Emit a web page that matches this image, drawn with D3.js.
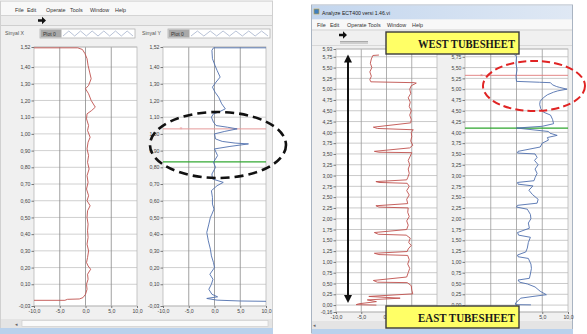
<!DOCTYPE html>
<html><head><meta charset="utf-8">
<script src="https://cdn.jsdelivr.net/npm/d3@7"></script>
<style>body{margin:0;background:#fff}svg{display:block}</style>
</head><body><div id="c"></div>
<script>
// ---------- DATA ----------
const menuItems = ["File","Edit","Operate","Tools","Window","Help"];
const leftYTicks = [1.52,1.40,1.30,1.20,1.10,1.00,0.90,0.80,0.70,0.60,0.50,0.40,0.30,0.20,0.10,-0.03];
const rightYTicks = [5.93,5.75,5.50,5.25,5.00,4.75,4.50,4.25,4.00,3.75,3.50,3.25,3.00,2.75,2.50,2.25,2.00,1.75,1.50,1.25,1.00,0.75,0.50,0.25,0.00,-0.16];
const xTicks = [-10,-5,0,5,10];
const xGrid = [-5,0,5];

// Sinyal X (left window, red) : signal amplitude / position
const sinyalXSig = [-10,-1.5,-0.6,-0.1,0.3,0.5,0.8,1.1,0.6,0.0,0.6,1.1,1.9,1.2,0.3,0.2,0.6,0.4,0.9,0.5,0.3,0.6,0.4,0.7,0.3,0.5,0.2,0.6,0.3,0.9,0.4,0.3,0.5,0.4,0.5,0.3,0.6,0.4,0.2,0.5,1.0,0.4,0.5,0.2,0.3,0.0,-0.5,-1.2,-3.5,-4.0,-10];
const sinyalXPos = [1.515,1.515,1.505,1.48,1.45,1.41,1.37,1.33,1.29,1.27,1.24,1.20,1.16,1.14,1.12,1.09,1.05,1.02,0.98,0.95,0.91,0.87,0.83,0.79,0.75,0.71,0.67,0.63,0.60,0.57,0.54,0.50,0.46,0.42,0.38,0.34,0.30,0.26,0.23,0.21,0.19,0.16,0.13,0.10,0.07,0.04,0.02,0.012,0.01,0.004,0.004];

// Sinyal Y (left window, blue)
const sinyalYSig = [10,-0.2,-0.5,-0.4,0.1,0.5,1.1,0.3,-0.4,0.1,0.8,1.4,2.1,0.8,-0.2,-0.6,-0.2,0.3,2.5,4.4,2.0,0.0,0.2,1.5,4.0,6.6,3.0,0.0,0.6,-0.2,0.2,-0.5,-0.4,1.7,0.5,-0.6,-0.4,-0.4,-0.1,-0.5,-0.8,-1.1,-1.5,-1.2,-0.8,-0.6,-0.2,0.0,-0.9,-0.3,-0.6,-1.1,-0.5,0.6,-1.5,0.5,5,10];
const sinyalYPos = [1.515,1.515,1.50,1.45,1.41,1.38,1.34,1.31,1.28,1.25,1.22,1.18,1.15,1.13,1.12,1.10,1.07,1.05,1.04,1.03,1.015,1.00,0.97,0.955,0.945,0.94,0.925,0.91,0.87,0.83,0.80,0.76,0.73,0.71,0.69,0.66,0.62,0.58,0.55,0.52,0.50,0.46,0.41,0.36,0.31,0.27,0.23,0.20,0.16,0.13,0.10,0.07,0.04,0.025,0.015,0.005,0.0,-0.002];

// ECT400 channel 1 (right window, red)
const ectXSig = [-1.5,-2.7,-3.0,-3.2,-2.9,-3.3,-3.0,-3.3,-3.1,5.5,5.9,4.9,4.6,4.8,4.3,4.7,4.5,4.9,4.6,4.9,4.8,-2.6,-1.8,5.3,4.9,5.0,4.8,5.2,4.6,-2.4,-1.5,5.0,4.7,4.3,4.6,4.3,4.5,4.2,4.0,-2.1,-1.5,4.1,4.5,4.0,4.5,4.0,4.2,-2.1,-1.5,4.3,4.2,4.5,4.0,4.3,4.0,-2.4,-1.6,3.9,4.7,4.4,4.9,4.3,4.1,-2.4,-1.5,4.2,4.5,4.2,4.6,4.3,4.0,-2.6,-1.8,4.1,4.9,5.0,5.2,-3.5,2.7,-3.8,-2.0,-5.5,-6.0,-2.0];
const ectXPos = [5.79,5.78,5.70,5.60,5.50,5.40,5.30,5.22,5.17,5.15,5.14,5.08,5.00,4.90,4.80,4.70,4.60,4.50,4.40,4.30,4.22,4.12,4.09,4.06,4.00,3.90,3.80,3.70,3.64,3.56,3.54,3.53,3.45,3.35,3.25,3.15,3.05,2.95,2.90,2.86,2.84,2.82,2.75,2.65,2.55,2.45,2.35,2.30,2.27,2.25,2.15,2.05,1.95,1.85,1.75,1.68,1.64,1.62,1.55,1.45,1.38,1.30,1.24,1.20,1.17,1.15,1.05,0.95,0.85,0.75,0.65,0.57,0.53,0.52,0.45,0.35,0.26,0.20,0.16,0.12,0.08,0.03,0.01,0.0];

// ECT400 channel 2 (right window, blue)
const ectYSig = [-0.4,0.0,-0.1,0.1,-0.1,0.0,4.5,6.6,7.0,7.8,8.4,9.8,8.0,7.2,6.0,5.2,4.6,4.5,4.7,5.2,6.6,7.0,7.2,5.0,0.0,6.2,6.5,7.9,6.0,6.2,5.0,4.6,0.3,0.2,3.6,4.0,3.5,4.2,3.6,4.0,3.6,3.4,0.2,0.3,3.2,2.4,3.1,4.2,4.0,0.2,0.0,2.1,2.7,2.8,2.3,2.5,0.2,0.4,2.7,2.3,2.1,1.8,0.2,0.3,2.3,2.8,2.9,2.7,2.5,0.3,0.6,2.1,3.6,4.6,5.8,3.2,0.8,0.3,-0.2,-0.2,2.8];
const ectYPos = [5.80,5.75,5.60,5.45,5.30,5.18,5.16,5.15,5.10,5.06,5.04,5.00,4.96,4.93,4.87,4.80,4.72,4.65,4.55,4.47,4.40,4.30,4.20,4.14,4.10,4.02,3.98,3.93,3.88,3.82,3.75,3.66,3.56,3.52,3.50,3.42,3.35,3.25,3.15,3.05,2.95,2.88,2.84,2.80,2.76,2.66,2.56,2.45,2.36,2.31,2.27,2.22,2.10,2.00,1.90,1.78,1.68,1.62,1.57,1.45,1.32,1.23,1.16,1.12,1.08,0.95,0.85,0.72,0.62,0.58,0.53,0.49,0.42,0.32,0.24,0.20,0.16,0.10,0.05,0.01,0.005];

// cursor markers (position values)
const leftCursorRed = 1.03, leftCursorGreen = 0.833;
const rightCursorRed = 5.32, rightCursorGreen = 4.10;

// ---------- DRAW ----------
const W=587,H=334, FONT="Liberation Sans, Arial, sans-serif";
const svg=d3.select("#c").append("svg").attr("width",W).attr("height",H).attr("font-family",FONT);
svg.append("rect").attr("width",W).attr("height",H).attr("fill","#fff");

const fmtY = d => (d<0?"-":"")+Math.abs(d).toFixed(2).replace(".",",");
const fmtX = d => (d<0?"-":"")+Math.abs(d).toFixed(1).replace(".",",");

function arrowIcon(x,y){
  svg.append("path").attr("d",`M${x-4},${y-1.3}h4v-2.5l4,3.8l-4,3.8v-2.5h-4z`).attr("fill","#111");
}
function menu(x,y,spacing){
  const g=svg.append("g");
  let cx=x;
  menuItems.forEach((m,i)=>{
    g.append("text").attr("x",cx).attr("y",y).attr("font-size",5.4).attr("fill","#333").text(m);
    cx += spacing[i]||0;
  });
}

function plot(o){
  const x=d3.scaleLinear().domain([-10,10]).range([o.x0,o.x1]);
  const y=d3.scaleLinear().domain(o.yDom).range([o.y1,o.y0]);
  const g=svg.append("g");
  g.append("rect").attr("x",o.x0).attr("y",o.y0).attr("width",o.x1-o.x0).attr("height",o.y1-o.y0).attr("fill","#fff");
  g.selectAll(".hg").data(o.yTicks).join("line").attr("x1",o.x0).attr("x2",o.x1)
    .attr("y1",d=>y(d)).attr("y2",d=>y(d)).attr("stroke",o.hgrid).attr("stroke-width",0.8);
  g.selectAll(".vg").data(xGrid).join("line").attr("y1",o.y0).attr("y2",o.y1)
    .attr("x1",d=>x(d)).attr("x2",d=>x(d)).attr("stroke",o.vgrid).attr("stroke-width",0.8);
  g.append("rect").attr("x",o.x0).attr("y",o.y0).attr("width",o.x1-o.x0).attr("height",o.y1-o.y0)
    .attr("fill","none").attr("stroke","#b8b8b8").attr("stroke-width",0.8);
  const ay=g.append("g").attr("transform",`translate(${o.x0},0)`)
    .call(d3.axisLeft(y).tickValues(o.yTicks).tickFormat(fmtY).tickSize(2.5).tickPadding(1));
  const ax=g.append("g").attr("transform",`translate(0,${o.y1})`)
    .call(d3.axisBottom(x).tickValues(xTicks).tickFormat(fmtX).tickSize(2).tickPadding(1.5));
  [ay,ax].forEach(a=>{a.select(".domain").remove();
    a.selectAll("line").attr("stroke","#777");
    a.selectAll("text").attr("font-size",5.2).attr("fill","#444").attr("font-family",FONT);});
  if(o.hideX) ax.selectAll(".tick").filter(d=>o.hideX.includes(d)).select("text").remove();
  if(o.cursors){
    o.cursors.forEach(c=>{
      g.append("line").attr("x1",o.x0).attr("x2",o.x1).attr("y1",y(c.v)).attr("y2",y(c.v))
        .attr("stroke",c.col).attr("stroke-width",c.w);
    });
  }
  const pts=o.sig.map((s,i)=>[x(s),y(o.pos[i])]);
  g.append("path").attr("d",d3.line()(pts)).attr("fill","none").attr("stroke",o.color).attr("stroke-width",0.9);
  if(o.cursors){
    const c=o.cursors[0];
    g.append("text").attr("x",x(c.mx)).attr("y",y(c.v)+1.6).attr("font-size",4.5).attr("fill",c.col).attr("text-anchor","middle").text("×");
  }
  return {x,y,g,ax};
}

// ===== LEFT WINDOW =====
svg.append("rect").attr("x",0.5).attr("y",1).attr("width",272).attr("height",329).attr("fill","#f0f0f0").attr("stroke","#d0d0d0");
svg.append("rect").attr("x",1).attr("y",2).attr("width",271).attr("height",13).attr("fill","#f8f8f8");
menu(15,11.5,[12,19,24,20,25]);
svg.append("line").attr("x1",1).attr("x2",272).attr("y1",15.5).attr("y2",15.5).attr("stroke","#d4d4d4");
svg.append("rect").attr("x",1).attr("y",16).attr("width",271).attr("height",9).attr("fill","#ececec");
arrowIcon(42,20.5);
svg.append("line").attr("x1",1).attr("x2",272).attr("y1",25.5).attr("y2",25.5).attr("stroke","#cfcfcf");
svg.append("text").attr("x",5).attr("y",35).attr("font-size",5.2).attr("fill","#555").text("Sinyal X");
svg.append("text").attr("x",142).attr("y",35).attr("font-size",5.2).attr("fill","#555").text("Sinyal Y");
function plotLegend(x0,x1){
  svg.append("rect").attr("x",x0).attr("y",29).attr("width",x1-x0).attr("height",9).attr("fill","#fff").attr("stroke","#aaa").attr("stroke-width",0.7);
  svg.append("rect").attr("x",x0+0.5).attr("y",29.5).attr("width",21).attr("height",8).attr("fill","#a9a9a9");
  svg.append("text").attr("x",x0+3).attr("y",35.5).attr("font-size",5).attr("fill","#333").text("Plot 0");
  const n=12, step=(x1-x0-25)/n;
  const zz=d3.range(n+1).map(i=>[x0+23+i*step, 33.5+(i%2?-2.5:2.5)]);
  svg.append("path").attr("d",d3.line()(zz)).attr("fill","none").attr("stroke","#9aa7c4").attr("stroke-width",0.7);
}
plotLegend(40,135);
plotLegend(168,270);

plot({x0:34,x1:137,y0:47,y1:306,yDom:[-0.03,1.52],yTicks:leftYTicks,sig:sinyalXSig,pos:sinyalXPos,
  color:"#c0504d",hgrid:"#c4c4c4",vgrid:"#8a8a8a"});
plot({x0:163,x1:266,y0:47,y1:306,yDom:[-0.03,1.52],yTicks:leftYTicks,sig:sinyalYSig,pos:sinyalYPos,
  color:"#4f6fae",hgrid:"#c4c4c4",vgrid:"#8a8a8a",
  cursors:[{v:leftCursorRed,col:"#e59a9a",w:1,mx:-6.5},{v:leftCursorGreen,col:"#33a833",w:1.3}]});
svg.append("rect").attr("x",1).attr("y",319).attr("width",271).attr("height",9).attr("fill","#e4e4e4");
svg.append("rect").attr("x",22).attr("y",320.5).attr("width",246).attr("height",6).attr("fill","#fafafa").attr("stroke","#c9c9c9").attr("stroke-width",0.6);
svg.append("text").attr("x",15).attr("y",326).attr("font-size",5).attr("fill","#666").text("◂");
svg.append("rect").attr("x",0).attr("y",328).attr("width",273).attr("height",6).attr("fill","#b9d1ec");

// ===== RIGHT WINDOW =====
const grad=svg.append("defs").append("linearGradient").attr("id","tb").attr("x1",0).attr("x2",1).attr("y1",0).attr("y2",0);
grad.append("stop").attr("offset","0").attr("stop-color","#c3d6ee");
grad.append("stop").attr("offset","1").attr("stop-color","#dfe8f4");
svg.append("rect").attr("x",311.5).attr("y",5).attr("width",261).attr("height",328).attr("fill","#f0f0f0").attr("stroke","#a9b4c2");
svg.append("rect").attr("x",312).attr("y",5.5).attr("width",260).attr("height",14).attr("fill","url(#tb)");
svg.append("rect").attr("x",314).attr("y",9).attr("width",5).attr("height",5).attr("fill","#3f7fbf").attr("stroke","#c9a23a").attr("stroke-width",0.6);
svg.append("text").attr("x",322).attr("y",14.5).attr("font-size",5.2).attr("fill","#222").text("Analyze ECT400 versi 1.46.vi");
svg.append("rect").attr("x",312).attr("y",19.5).attr("width",260).attr("height",10).attr("fill","#f8f8f8");
menu(317,26.5,[13,17,21,19,25]);
svg.append("line").attr("x1",312).attr("x2",572).attr("y1",30).attr("y2",30).attr("stroke","#d4d4d4");
arrowIcon(343,35);
svg.append("line").attr("x1",340).attr("x2",368).attr("y1",41.5).attr("y2",41.5).attr("stroke","#aaa");
svg.append("line").attr("x1",340).attr("x2",368).attr("y1",43).attr("y2",43).attr("stroke","#aaa");
svg.append("line").attr("x1",312).attr("x2",572).attr("y1",45.5).attr("y2",45.5).attr("stroke","#d8d8d8");

const rp1=plot({x0:336,x1:437,y0:49,y1:312,yDom:[-0.16,5.93],yTicks:rightYTicks,sig:ectXSig,pos:ectXPos,
  color:"#c0504d",hgrid:"#bdbdbd",vgrid:"#9a9a9a",hideX:[10]});
const rp2=plot({x0:465,x1:568,y0:49,y1:312,yDom:[-0.16,5.93],yTicks:rightYTicks,sig:ectYSig,pos:ectYPos,
  color:"#4f6fae",hgrid:"#bdbdbd",vgrid:"#9a9a9a",hideX:[-10,-5,0],
  cursors:[{v:rightCursorRed,col:"#e07a7a",w:0.9,mx:-6.8},{v:rightCursorGreen,col:"#2ea62e",w:1.3}]});
svg.append("rect").attr("x",312).attr("y",321).attr("width",260).attr("height",8).attr("fill","#e4e4e4");
svg.append("text").attr("x",313).attr("y",327).attr("font-size",5).attr("fill","#666").text("◂");
svg.append("rect").attr("x",312).attr("y",329).attr("width",261).attr("height",5).attr("fill","#b9d1ec");

// ===== ANNOTATIONS =====
const arX=348, arTop=rp1.y(5.8), arBot=rp1.y(0.05);
svg.append("line").attr("x1",arX).attr("x2",arX).attr("y1",arTop+6).attr("y2",arBot-6).attr("stroke","#111").attr("stroke-width",2);
svg.append("path").attr("d",`M${arX},${arTop}l-4,8h8z`).attr("fill","#111");
svg.append("path").attr("d",`M${arX},${arBot}l-4,-8h8z`).attr("fill","#111");

svg.append("ellipse").attr("cx",218).attr("cy",145).attr("rx",68).attr("ry",33)
  .attr("fill","none").attr("stroke","#111").attr("stroke-width",2.6).attr("stroke-dasharray","9,5");
svg.append("ellipse").attr("cx",534).attr("cy",86).attr("rx",51).attr("ry",25)
  .attr("fill","none").attr("stroke","#e02424").attr("stroke-width",2).attr("stroke-dasharray","8,4");

function tag(x,y,w,h,label){
  svg.append("rect").attr("x",x).attr("y",y).attr("width",w).attr("height",h).attr("fill","#ffff66").attr("stroke","#3a3a3a").attr("stroke-width",1.4);
  svg.append("text").attr("x",x+w-4).attr("y",y+h/2+4.6).attr("text-anchor","end")
    .attr("font-family","Liberation Serif, Times New Roman, serif").attr("font-weight","bold").attr("font-size",13.5)
    .attr("textLength",97).attr("lengthAdjust","spacingAndGlyphs").attr("fill","#1a1a1a").text(label);
}
tag(386,32,133,22,"WEST TUBESHEET");
tag(386,306,133,22,"EAST TUBESHEET");
// the "5,0" label of the first ECT plot shows on top of the tag
rp1.ax.raise();
</script></body></html>
